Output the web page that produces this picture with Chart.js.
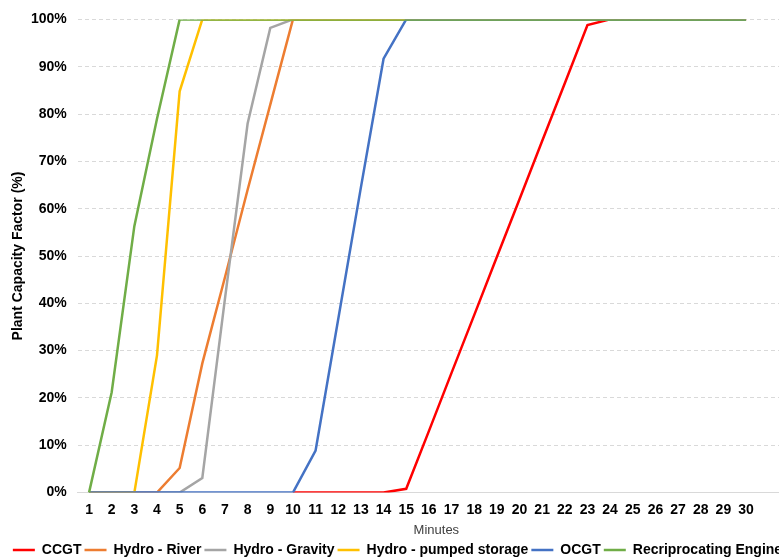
<!DOCTYPE html>
<html>
<head>
<meta charset="utf-8">
<script src="https://cdn.jsdelivr.net/npm/chart.js@4.4.1/dist/chart.umd.min.js"></script>
<style>
  html, body { margin: 0; padding: 0; background: #fff; overflow: hidden; }
  #wrap { width: 779px; height: 559px; overflow: hidden; }
</style>
</head>
<body>
<div id="wrap"><canvas id="chart" width="795" height="559"></canvas></div>
<script>
const minutes = [1,2,3,4,5,6,7,8,9,10,11,12,13,14,15,16,17,18,19,20,21,22,23,24,25,26,27,28,29,30];

const seriesNames = ["CCGT", "Hydro - River", "Hydro - Gravity", "Hydro - pumped storage", "OCGT", "Recriprocating Engine"];
const seriesColors = ["#FF0000", "#ED7D31", "#A5A5A5", "#FFC000", "#4472C4", "#70AD47"];

const ccgt = [null,null,null,null,null,null,null,null,null,0,0,0,0,0,0.8,13,25.3,37.5,49.8,62,74.3,86.5,98.8,100,100,100,100,100,100,100];
const hydroRiver = [0,0,0,0,5.2,27.3,45.5,64,82,100,100,100,100,100,100,100,100,100,100,100,100,100,100,100,100,100,100,100,100,100];
const hydroGravity = [0,0,0,0,0,3.1,41,78,98.2,100,100,100,100,100,100,100,100,100,100,100,100,100,100,100,100,100,100,100,100,100];
const hydroPumped = [0,0,0,29,84.8,100,100,100,100,100,100,100,100,100,100,100,100,100,100,100,100,100,100,100,100,100,100,100,100,100];
const ocgt = [0,0,0,0,0,0,0,0,0,0,8.9,36.7,64.5,91.7,100,100,100,100,100,100,100,100,100,100,100,100,100,100,100,100];
const recipEngine = [0,21.2,56.3,79,100,100,100,100,100,100,100,100,100,100,100,100,100,100,100,100,100,100,100,100,100,100,100,100,100,100];

const allSeries = [ccgt, hydroRiver, hydroGravity, hydroPumped, ocgt, recipEngine];

const datasets = allSeries.map((vals, i) => ({
  label: seriesNames[i],
  data: minutes.map((m, j) => ({ x: m, y: vals[j] })),
  borderColor: seriesColors[i],
  backgroundColor: seriesColors[i],
  borderWidth: 2.5,
  pointRadius: 0,
  tension: 0,
  spanGaps: false,
  order: allSeries.length - i  // last series drawn on top, like the original
}));

const tickFont = { family: "'Liberation Sans', Arial, sans-serif", size: 14, weight: "bold" };

new Chart(document.getElementById("chart"), {
  type: "line",
  data: { datasets },
  options: {
    responsive: false,
    animation: false,
    layout: { padding: { top: 16.5, right: 0, bottom: -8, left: 0 } },
    plugins: {
      tooltip: { enabled: false },
      legend: {
        position: "bottom",
        labels: {
          usePointStyle: true,
          pointStyle: "line",
          pointStyleWidth: 22,
          boxHeight: 14,
          padding: 3,
          color: "#000",
          font: tickFont,
          sort: (a, b) => a.datasetIndex - b.datasetIndex
        }
      }
    },
    scales: {
      x: {
        type: "linear",
        min: 0.5,
        max: 32.16,
        afterBuildTicks: (scale) => { scale.ticks = minutes.map(m => ({ value: m })); },
        grid: { display: false, drawTicks: false },
        border: { display: true, color: "#D9D9D9", width: 1 },
        ticks: {
          autoSkip: false,
          maxRotation: 0,
          padding: 9,
          color: "#000",
          font: tickFont
        },
        title: {
          display: true,
          text: "Minutes",
          color: "#404040",
          font: { family: "'Liberation Sans', Arial, sans-serif", size: 13 },
          padding: { top: -5, bottom: 2 }
        }
      },
      y: {
        min: 0,
        max: 100,
        afterFit: (scale) => { scale.width = 77.7; },
        grid: { color: "#D9D9D9", lineWidth: 1, drawTicks: false },
        border: { display: false, dash: [4, 3] },
        ticks: {
          stepSize: 10,
          padding: 11,
          color: "#000",
          font: tickFont,
          callback: (v) => v + "%"
        },
        title: {
          display: true,
          text: "Plant Capacity Factor (%)",
          color: "#000",
          font: tickFont,
          padding: { top: 10, bottom: 0 }
        }
      }
    }
  }
});
</script>
</body>
</html>
